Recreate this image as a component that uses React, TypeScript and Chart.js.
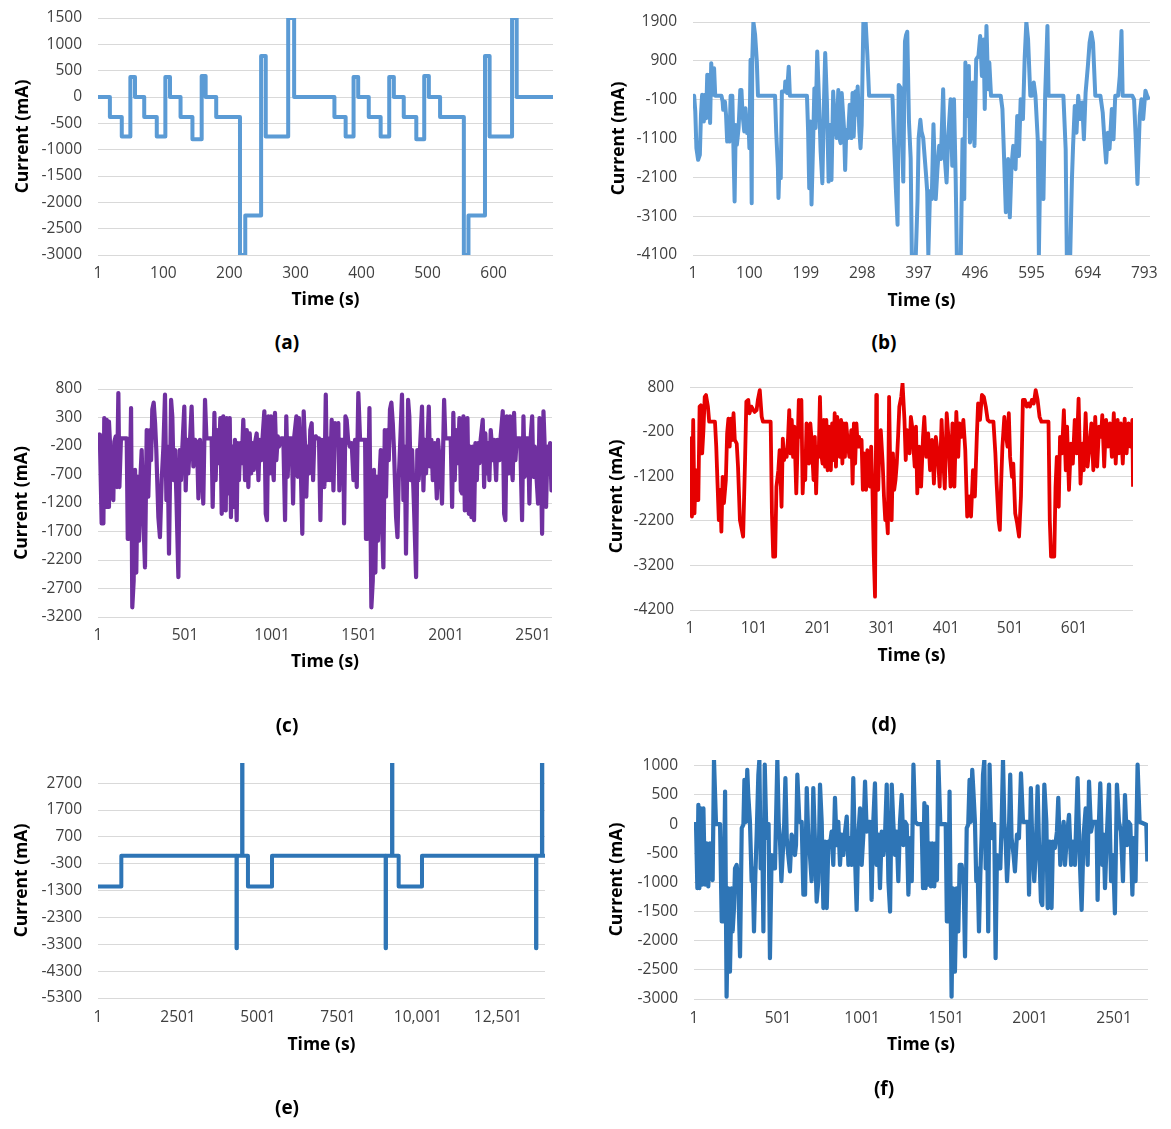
import React, { useEffect, useRef } from "react";
import { Chart, registerables } from "chart.js";
Chart.register(...registerables);

const FONT = '"Open Sans", sans-serif';

// ---------- (a) ----------
const timeA = [1, 19, 37, 50, 57, 71, 90, 103, 110, 126, 144, 158, 164, 180, 216, 224, 248, 255, 289, 298, 359, 376, 388, 395, 411, 429, 442, 449, 464, 483, 495, 502, 519, 555, 562, 587, 594, 628, 635, 690];
const currentA = [0, -380, -750, 380, 0, -380, -750, 380, 0, -380, -800, 400, 0, -380, -3000, -2250, 780, -750, 1500, 0, -380, -750, 380, 0, -380, -750, 380, 0, -380, -800, 400, 0, -380, -3000, -2250, 780, -750, 1500, 0, 0];
const xTicksA = [1, 100, 200, 300, 400, 500, 600];
const yTicksA = [1500, 1000, 500, 0, -500, -1000, -1500, -2000, -2500, -3000];

// ---------- (b) ----------
const pointsB: [number, number][] = [
  [1, -100], [3, 0], [5, -400], [7, -1350], [10, -1650], [13, -1520], [15, -490], [17, 25], [20, -660], [22, 25], [24, -580], [26, 540], [28, -60], [30, 540], [31, -700], [33, 840], [36, 25], [38, 710], [40, 0], [51, 0],
  [53, -150], [54, -360], [57, -150], [59, -490], [61, -1180], [64, -750], [65, -1180], [67, 0], [70, 0], [74, -2720], [76, -750], [78, -1260], [81, -830], [84, 150], [86, 150], [88, -490], [91, -920], [93, -320], [96, -960], [98, -530],
  [100, -1350], [102, 925], [104, -2770], [105, 925], [107, 1900], [110, 1570], [113, 880], [115, 0], [145, 0], [147, -920], [150, -1860], [151, -2630], [153, -1690], [155, -2120], [157, 110], [160, 110], [162, 110], [163, 370], [166, 70], [169, 750],
  [171, 0], [201, 0], [203, -920], [205, -2380], [207, -660], [209, -2800], [212, -1090], [214, 190], [216, -830], [219, 1140], [222, -60], [225, -1440], [228, -2250], [231, -60], [233, 1100], [236, -150], [239, -2210], [241, -750], [244, -2170], [247, 110],
  [249, -490], [253, -1090], [256, 150], [258, -1090], [260, -1220], [262, 70], [266, -830], [268, -1910], [270, -880], [273, -1090], [276, -230], [279, -1090], [281, 70], [283, -1050], [286, 110], [288, -490], [290, 240], [293, -920], [295, -1350], [297, -750],
  [300, 1900], [304, 1900], [307, 1050], [310, 0], [351, 0], [354, -1260], [357, -2380], [360, -3320], [362, 280], [366, 190], [368, -1180], [370, -2210], [373, 1400], [375, 1570], [377, 1650], [380, -660], [383, -1610], [385, -4100], [392, -4100], [395, -2720],
  [397, -1090], [400, -620], [402, -920], [405, -1090], [410, -2040], [412, -2460], [414, -4100], [417, -2450], [420, -2660], [423, -730], [427, -2660], [430, -1890], [433, -1290], [436, -1630], [440, 170], [443, -1630], [446, -2230], [449, -1030], [453, -90], [456, -1800],
  [459, -90], [462, -2140], [464, -4100], [471, -4100], [474, -1120], [477, -2660], [479, 855], [482, -520], [485, 770], [487, -1200], [490, -860], [492, 340], [495, -1290], [498, 940], [502, 1030], [505, 1540], [508, 510], [511, 1450], [513, -340], [516, 1800],
  [519, 170], [521, 855], [524, 0], [541, 0], [544, -340], [547, -1630], [550, -3000], [554, -1630], [557, -3130], [560, -1800], [563, -1290], [567, -1890], [570, -520], [573, -1550], [576, -90], [580, -600], [583, 940], [586, 1900], [589, 1450], [593, 0],
  [596, 0], [599, 340], [602, 0], [606, -1120], [608, -4100], [611, -1200], [614, -2060], [616, -2660], [619, 0], [623, 1800], [625, 0], [651, 0], [655, -1370], [657, -4100], [663, -4100], [666, -2140], [668, -1290], [671, -260], [674, -950], [677, 0],
  [681, -600], [684, -170], [687, -1120], [690, 85], [694, 770], [697, 1370], [700, 1630], [703, 1370], [707, 0], [716, 0], [720, -430], [723, -1120], [726, -1720], [729, -950], [732, -1370], [736, -340], [739, -1120], [742, 0], [747, 0], [750, 510],
  [753, 1670], [755, 0], [772, 0], [775, -90], [778, -1120], [781, -2270], [785, -520], [788, -90], [791, -600], [795, 130], [798, 0], [801, -100],
];
const xTicksB = [1, 100, 199, 298, 397, 496, 595, 694, 793];
const yTicksB = [1900, 900, -100, -1100, -2100, -3100, -4100];

// ---------- (c) ----------
const pointsC: [number, number][] = [
  [1, -100], [7, 0], [12, -90], [22, -1560], [32, -1560], [37, 290], [45, -1270], [51, 260], [60, -1270], [64, 230], [70, -150], [80, -1030], [89, -1150], [95, -120], [103, -30], [110, -920], [118, 730], [124, -920], [133, -65], [166, -65],
  [172, -1830], [179, -1830], [191, 465], [198, -3030], [206, -2560], [214, -620], [221, -2420], [229, -740], [237, -1860], [244, -800], [252, -270], [262, -1500], [271, -2330], [281, 80], [290, -1090], [300, 80], [306, -450], [313, 440], [321, 560], [329, 200],
  [336, -270], [348, -1450], [357, -1800], [367, -800], [377, -210], [386, 700], [394, -1150], [401, -210], [409, -2090], [421, 610], [428, 320], [436, -800], [444, -270], [453, -1270], [463, -2500], [470, -270], [478, -800], [486, -210], [497, 490], [505, -980],
  [513, -90], [520, -680], [528, -210], [539, 490], [549, -560], [559, -90], [570, -150], [578, -1120], [587, -90], [597, -560], [606, -1210], [616, 610], [624, -65], [654, -65], [660, -1270], [670, 380], [677, -800], [685, 80], [696, -500], [704, 290],
  [712, -1390], [721, 320], [727, -800], [735, -1330], [741, 290], [750, -1030], [758, 290], [765, -1450], [773, -210], [781, -1270], [788, -90], [798, -1500], [804, -150], [811, -800], [819, -150], [827, -500], [836, 260], [846, -800], [856, 80], [865, -920],
  [873, 20], [881, -680], [888, -150], [896, -620], [903, -150], [913, 20], [923, -800], [930, -90], [938, -450], [946, -90], [957, 410], [965, -1390], [972, -1500], [980, 320], [988, -680], [995, 320], [1003, -500], [1011, -800], [1018, 380], [1026, -450],
  [1034, -30], [1041, -210], [1053, -65], [1066, -65], [1076, -1500], [1083, 320], [1091, -740], [1099, -65], [1114, -65], [1122, -1210], [1129, -30], [1141, 320], [1149, -740], [1156, 290], [1168, -800], [1175, -1740], [1183, 410], [1191, -210], [1198, -1090], [1206, -210],
  [1214, -680], [1221, 80], [1229, 200], [1237, -800], [1244, -90], [1252, -30], [1260, -65], [1271, -65], [1279, -1500], [1287, -90], [1294, -620], [1302, -920], [1310, 700], [1317, -800], [1325, -65], [1334, -800], [1344, 260], [1354, -980], [1363, 200], [1373, -150],
  [1382, 200], [1388, -980], [1396, -90], [1411, -90], [1415, -1560], [1423, 320], [1430, 260], [1438, -90], [1449, -210], [1459, -150], [1469, -800], [1478, -90], [1488, -920], [1497, 730], [1507, -90], [1536, -90], [1541, -1830], [1549, -1830], [1561, 465], [1572, -3030],
  [1580, -2560], [1587, -620], [1595, -2420], [1603, -740], [1610, -1860], [1618, -800], [1626, -270], [1633, -1500], [1641, -2330], [1649, 80], [1656, -1090], [1664, 80], [1672, -450], [1679, 440], [1687, 560], [1695, 200], [1702, -270], [1714, -1450], [1722, -1800], [1729, -800],
  [1737, -210], [1748, 700], [1756, -1150], [1764, -210], [1771, -2090], [1783, 610], [1790, 320], [1798, -800], [1806, -270], [1817, -1270], [1829, -2500], [1836, -270], [1844, -800], [1852, -210], [1863, 490], [1871, -980], [1879, -90], [1886, -680], [1894, -210], [1902, 490],
  [1909, -560], [1917, -90], [1925, -800], [1936, -150], [1948, -1120], [1955, -90], [1967, -560], [1978, -1210], [1990, 610], [1997, -65], [2028, -65], [2036, -1270], [2043, 380], [2051, -800], [2059, 80], [2070, -500], [2078, 290], [2086, -980], [2093, -1030], [2101, 320],
  [2109, -1330], [2116, -800], [2124, 290], [2132, -1390], [2139, -210], [2147, -1450], [2155, -210], [2162, -1500], [2170, -150], [2178, -800], [2185, -150], [2193, -500], [2200, -90], [2212, 260], [2220, -920], [2227, 20], [2235, -680], [2243, -150], [2250, -800], [2258, 80],
  [2270, -450], [2277, -90], [2289, -800], [2296, -90], [2308, -450], [2315, -30], [2327, 410], [2335, -1390], [2342, -1500], [2350, 320], [2361, -680], [2369, 320], [2377, -500], [2384, -800], [2392, 380], [2400, -450], [2407, -65], [2427, -65], [2438, -1500], [2446, 320],
  [2453, -740], [2461, -65], [2473, -65], [2480, -1210], [2488, -30], [2496, 320], [2503, -740], [2511, -210], [2522, -800], [2530, -1210], [2538, 290], [2545, -210], [2553, -1740], [2561, 410], [2568, -210], [2576, -1270], [2584, -210], [2591, -680], [2599, -150], [2607, -980],
  [2610, -210],
];
const xTicksC = [1, 501, 1001, 1501, 2001, 2501];
const yTicksC = [800, 300, -200, -700, -1200, -1700, -2200, -2700, -3200];

// ---------- (d) ----------
const pointsD: [number, number][] = [
  [1, -300], [3, -380], [4, -2100], [6, 70], [8, -2030], [10, -1060], [12, -1730], [14, -1730], [16, 370], [18, 400], [20, -680], [22, -160], [24, 590], [26, 630], [29, 370], [31, 30], [40, 30], [42, -530], [44, -1360], [46, -2180],
  [48, -1500], [50, -2440], [52, -1210], [54, -1800], [57, -1280], [59, -230], [61, 100], [63, -530], [65, 100], [67, -380], [69, 220], [71, -380], [74, -460], [76, -980], [79, -2180], [81, -2330], [84, -2550], [87, -830], [89, 480], [92, 520],
  [94, 220], [97, 370], [100, 290], [102, 250], [105, 290], [107, 520], [110, 740], [113, 140], [115, 30], [127, 30], [129, -2030], [131, -3000], [134, -3000], [136, -1430], [139, -1060], [141, -610], [144, -1880], [146, -350], [148, -830], [150, -610],
  [152, -760], [154, -380], [156, 290], [158, -680], [160, 70], [162, -760], [164, -80], [167, -1580], [169, -530], [171, 520], [173, -310], [175, 520], [177, -1580], [179, -830], [181, -1280], [183, -10], [185, -310], [187, -910], [189, -10], [191, -380],
  [194, -1280], [196, -310], [198, -1580], [200, -530], [202, -760], [204, 590], [206, -680], [208, -910], [210, 70], [212, -980], [214, 70], [216, -1060], [218, -80], [221, -1060], [223, -10], [225, -830], [227, 220], [229, -980], [231, 140], [233, -530],
  [235, -760], [237, 70], [239, -910], [241, -10], [243, -760], [245, -10], [248, -530], [250, -760], [253, -160], [255, -1360], [257, -10], [259, -910], [261, -10], [263, -530], [265, -310], [267, -530], [269, -380], [271, -1500], [273, -680], [276, -1500],
  [278, -610], [280, -760], [282, -1430], [284, -530], [286, -1500], [288, -2930], [290, -3900], [292, 630], [293, -1280], [295, -1500], [297, -380], [299, -160], [302, -910], [304, -1650], [306, -2180], [308, -2030], [310, -2480], [312, 590], [314, -1280], [316, -2180],
  [318, -680], [320, -1500], [322, -1280], [324, -910], [326, -310], [328, 370], [331, 590], [333, 890], [336, 70], [338, -830], [340, -160], [342, -230], [344, -680], [346, 140], [348, -80], [350, -530], [352, -980], [354, -80], [356, -1580], [359, -530],
  [362, -1430], [365, -310], [367, 140], [370, -760], [373, -230], [376, -1060], [379, -380], [382, -1360], [385, -310], [388, -680], [391, -1430], [394, 70], [396, -680], [399, -1470], [402, 220], [405, -380], [408, -1430], [411, -10], [414, -1430], [417, 250],
  [420, -760], [422, -10], [425, -310], [428, 70], [431, -610], [434, -2100], [437, -1650], [440, -2100], [443, -1060], [446, -1650], [449, -310], [451, 440], [454, 70], [457, 630], [460, 590], [463, 370], [466, 70], [469, 30], [475, 30], [478, -680],
  [480, -1360], [483, -2180], [485, -2400], [487, -1360], [489, -530], [492, 140], [495, -310], [497, -530], [499, 220], [501, -760], [504, -1210], [506, -910], [509, -2030], [512, -2250], [515, -2550], [518, -1650], [521, 520], [524, 520], [527, 370], [530, 440],
  [532, 370], [535, 520], [538, 440], [541, 740], [544, 520], [547, 140], [550, 30], [561, 30], [563, -2180], [565, -3000], [570, -3000], [572, -1430], [574, -760], [577, -1880], [579, -310], [582, -680], [585, 290], [588, -1060], [590, -80], [593, -1500],
  [596, -460], [599, -910], [602, 70], [605, -680], [608, 550], [611, -1360], [614, -460], [616, -1060], [619, 220], [622, -980], [625, -530], [628, -10], [631, -1060], [634, 140], [637, -980], [640, -80], [643, -310], [645, 180], [648, -980], [651, 70],
  [654, -530], [657, -10], [660, -760], [663, 220], [666, -910], [669, 70], [671, -680], [674, -10], [677, -910], [680, 100], [683, -680], [686, -10], [689, -530], [692, 70], [693, -1430],
];
const xTicksD = [1, 101, 201, 301, 401, 501, 601];
const yTicksD = [800, -200, -1200, -2200, -3200, -4200];

// ---------- (e) ----------
const timeE = [1, 730, 4330, 4340, 4505, 4515, 4687, 5439, 8990, 9000, 9190, 9200, 9397, 10126, 13690, 13700, 13875, 13885, 13970];
const currentE = [-1150, 0, -3450, 0, 3450, 0, -1150, 0, -3450, 0, 3450, 0, -1150, 0, -3450, 0, 3450, 0, 0];
const xTicksE = [1, 2501, 5001, 7501, 10001, 12501];
const xLabelsE = ["1", "2501", "5001", "7501", "10,001", "12,501"];
const yTicksE = [2700, 1700, 700, -300, -1300, -2300, -3300, -4300, -5300];

// ---------- (f) ----------
const pointsF: [number, number][] = [
  [1, 0], [13, 0], [21, -1100], [27, 330], [33, -1100], [41, 270], [49, -1040], [57, 270], [61, -330], [68, -1040], [76, -330], [86, -1070], [96, -330], [104, -360], [112, -960], [120, 1100], [132, 0], [156, 0], [166, -1670], [176, -1670],
  [186, 560], [195, -2960], [205, -1100], [215, -2530], [225, -1100], [231, -1840], [239, -1440], [245, -760], [255, -700], [265, -1040], [275, -2270], [285, -70], [295, -10], [301, 760], [311, 40], [318, 930], [324, 500], [334, 40], [344, -980], [350, -760],
  [358, -1840], [366, -870], [374, -180], [384, 850], [390, 1100], [398, -760], [406, 40], [414, -1840], [422, 1020], [430, 40], [437, -240], [445, 0], [453, -2300], [463, -530], [473, -760], [483, -760], [489, 40], [497, 1100], [505, 40], [513, -300],
  [521, -980], [529, -530], [537, -70], [545, 790], [553, -240], [562, -530], [572, -810], [582, -180], [592, -240], [602, -530], [608, -360], [616, 850], [628, 40], [642, 40], [652, -1210], [662, -1210], [672, 620], [682, -300], [691, -530], [701, -980],
  [711, 620], [721, -300], [731, -1330], [741, -980], [751, 680], [761, 40], [771, -1440], [781, -300], [791, -1440], [801, -300], [810, -360], [820, -130], [830, -700], [840, 450], [850, -360], [860, 40], [870, -700], [880, -180], [890, -530], [900, -130],
  [910, 130], [920, -700], [930, -240], [939, -700], [949, 790], [959, -530], [969, -1470], [979, -180], [989, 270], [999, -700], [1009, -180], [1019, 730], [1029, -130], [1039, 40], [1049, 40], [1058, -1300], [1068, 40], [1078, 700], [1088, -700], [1098, -180],
  [1108, -1100], [1118, -130], [1128, -530], [1138, -180], [1148, 680], [1158, -980], [1168, -1500], [1178, 680], [1187, 40], [1197, -530], [1207, -130], [1217, -980], [1227, 40], [1237, 500], [1247, -360], [1257, 40], [1267, -10], [1277, -1210], [1287, -240], [1297, -980],
  [1307, 1020], [1317, 40], [1332, 0], [1356, 0], [1364, -1100], [1372, 360], [1379, -1100], [1387, 300], [1395, -1040], [1403, -330], [1411, -1070], [1419, -330], [1431, -1070], [1439, -330], [1447, -960], [1455, 1100], [1467, 0], [1499, 0], [1506, -1670], [1514, -1670],
  [1522, 560], [1534, -2960], [1542, -1100], [1554, -2530], [1564, -1100], [1574, -1840], [1582, -700], [1594, -700], [1606, -1040], [1614, -2270], [1624, -70], [1633, -10], [1641, 760], [1649, 40], [1657, 930], [1665, 500], [1673, 40], [1681, -980], [1689, -760], [1697, -1840],
  [1705, -870], [1713, -180], [1721, 850], [1729, 1100], [1737, -760], [1745, 40], [1752, -1840], [1760, 1020], [1768, 40], [1776, -240], [1788, 0], [1796, -2300], [1804, -530], [1812, -760], [1824, -760], [1832, 40], [1840, 1100], [1848, 40], [1856, -300], [1864, -980],
  [1872, -530], [1883, 850], [1891, -240], [1903, -530], [1911, -810], [1923, -180], [1935, -240], [1947, 870], [1959, 40], [1987, 40], [1995, -1210], [2006, 620], [2014, -300], [2026, -980], [2034, -530], [2046, 650], [2054, -300], [2066, -1330], [2074, -1390], [2086, 680],
  [2098, 40], [2106, -1440], [2118, -300], [2129, -1440], [2137, -300], [2149, -410], [2161, -130], [2169, 450], [2181, -700], [2189, -360], [2201, 40], [2209, -700], [2221, -180], [2233, 160], [2245, -700], [2256, -300], [2268, -700], [2284, 790], [2296, -530], [2308, -1470],
  [2320, -180], [2332, 270], [2344, -700], [2352, 730], [2364, -130], [2375, 40], [2397, 40], [2403, -1300], [2411, 40], [2419, 700], [2431, -700], [2439, -180], [2447, -1100], [2459, -130], [2471, 680], [2483, -980], [2495, -530], [2506, -1530], [2518, 680], [2530, 40],
  [2542, -130], [2554, -980], [2566, 500], [2578, -360], [2586, 40], [2598, -10], [2610, -1210], [2618, -240], [2629, -980], [2641, 1020], [2653, 40], [2693, -10], [2699, -640],
];
const xTicksF = [1, 501, 1001, 1501, 2001, 2501];
const yTicksF = [1000, 500, 0, -500, -1000, -1500, -2000, -2500, -3000];

type Spec = {
  id: string;
  points: { x: number; y: number }[];
  color: string;
  lineWidth: number;
  stepped: false | "before" | "after";
  xMin: number; xMax: number; xTicks: number[]; xLabels?: string[];
  yMin: number; yMax: number; yTicks: number[];
  col: number; l: number; t: number; r: number; b: number;
  yTitleX: number; xTickY: number; xTitleY: number;
};

const pairs = (arr: [number, number][]) => arr.map(([x, y]) => ({ x, y }));

const specs: Spec[] = [
  { id: "a", points: timeA.map((x, i) => ({ x, y: currentA[i] })), color: "#5B9BD5", lineWidth: 4, stepped: "before",
    xMin: 1, xMax: 690, xTicks: xTicksA, yMin: -3000, yMax: 1500, yTicks: yTicksA,
    col: 0, l: 98, t: 18, r: 553, b: 255, yTitleX: 23, xTickY: 273, xTitleY: 300 },
  { id: "b", points: pairs(pointsB), color: "#5B9BD5", lineWidth: 4, stepped: false,
    xMin: 1, xMax: 803, xTicks: xTicksB, yMin: -4100, yMax: 1900, yTicks: yTicksB,
    col: 592, l: 693, t: 22, r: 1150, b: 255, yTitleX: 619, xTickY: 273, xTitleY: 301 },
  { id: "c", points: pairs(pointsC), color: "#7030A0", lineWidth: 4.2, stepped: false,
    xMin: 1, xMax: 2610, xTicks: xTicksC, yMin: -3200, yMax: 800, yTicks: yTicksC,
    col: 0, l: 98, t: 389, r: 552, b: 617, yTitleX: 22, xTickY: 635, xTitleY: 662 },
  { id: "d", points: pairs(pointsD), color: "#E60000", lineWidth: 3.8, stepped: false,
    xMin: 1, xMax: 693, xTicks: xTicksD, yMin: -4200, yMax: 900, yTicks: yTicksD,
    col: 592, l: 690, t: 383, r: 1133, b: 610, yTitleX: 617, xTickY: 628, xTitleY: 656 },
  { id: "e", points: timeE.map((x, i) => ({ x, y: currentE[i] })), color: "#2E75B6", lineWidth: 4, stepped: "before",
    xMin: 1, xMax: 13970, xTicks: xTicksE, xLabels: xLabelsE, yMin: -5300, yMax: 3450, yTicks: yTicksE,
    col: 0, l: 98, t: 763, r: 545, b: 998, yTitleX: 22, xTickY: 1017, xTitleY: 1045 },
  { id: "f", points: pairs(pointsF), color: "#2E75B6", lineWidth: 4.2, stepped: false,
    xMin: 1, xMax: 2703, xTicks: xTicksF, yMin: -3000, yMax: 1100, yTicks: yTicksF,
    col: 592, l: 694, t: 760, r: 1148, b: 999, yTitleX: 617, xTickY: 1018, xTitleY: 1045 },
];

const panelLabels = [
  { text: "(a)", x: 287, y: 342 },
  { text: "(b)", x: 884, y: 342 },
  { text: "(c)", x: 287, y: 725 },
  { text: "(d)", x: 884, y: 724 },
  { text: "(e)", x: 287, y: 1107 },
  { text: "(f)", x: 884, y: 1088 },
];

const TICK_SIZE = 15.5;
const TITLE_SIZE = 17.5;
const TOP_PAD = 27;

function Panel({ s }: { s: Spec }) {
  const ref = useRef<HTMLCanvasElement | null>(null);
  const CL = s.col;
  const CT = s.t - TOP_PAD;
  const CR = Math.min(s.r + 22, 1171);
  const CB = s.xTitleY + 16;
  const W = CR - CL;
  const H = CB - CT;

  useEffect(() => {
    if (!ref.current) return;
    const titleLH = TITLE_SIZE * 1.2;
    const tickLH = TICK_SIZE * 1.2;
    const chart = new Chart(ref.current, {
      type: "line",
      data: {
        datasets: [
          {
            data: s.points,
            borderColor: s.color,
            backgroundColor: s.color,
            borderWidth: s.lineWidth,
            pointRadius: 0,
            pointHoverRadius: 0,
            tension: 0,
            stepped: s.stepped as any,
            borderJoinStyle: "round",
            borderCapStyle: "butt",
            fill: false,
          },
        ],
      },
      options: {
        animation: false,
        responsive: false,
        maintainAspectRatio: false,
        events: [],
        layout: { padding: { top: TOP_PAD, right: CR - s.r, left: 0, bottom: 0 } },
        plugins: { legend: { display: false }, tooltip: { enabled: false }, title: { display: false } },
        scales: {
          x: {
            type: "linear",
            min: s.xMin,
            max: s.xMax,
            grid: { display: false, drawTicks: false },
            border: { display: false },
            afterBuildTicks: (sc: any) => {
              sc.ticks = s.xTicks.map((v) => ({ value: v }));
            },
            afterFit: (sc: any) => {
              sc.height = CB - s.b;
            },
            ticks: {
              autoSkip: false,
              maxRotation: 0,
              minRotation: 0,
              padding: s.xTickY - s.b - tickLH / 2 + 0.5,
              color: "#404040",
              font: { family: FONT, size: TICK_SIZE },
              callback: (_v: any, i: number) => (s.xLabels ? s.xLabels[i] : String(s.xTicks[i])),
            },
            title: {
              display: true,
              text: "Time (s)",
              color: "#000000",
              font: { family: FONT, size: TITLE_SIZE, weight: "bold" },
              padding: { top: 0, bottom: CB - s.xTitleY - titleLH / 2 },
            },
          },
          y: {
            type: "linear",
            min: s.yMin,
            max: s.yMax,
            grid: { color: "#D9D9D9", lineWidth: 1, drawTicks: false },
            border: { display: false },
            afterBuildTicks: (sc: any) => {
              sc.ticks = s.yTicks.map((v) => ({ value: v }));
            },
            afterFit: (sc: any) => {
              sc.width = s.l - CL;
            },
            ticks: {
              padding: 16,
              color: "#404040",
              font: { family: FONT, size: TICK_SIZE },
              callback: (v: any) => String(v),
            },
            title: {
              display: true,
              text: "Current (mA)",
              color: "#000000",
              font: { family: FONT, size: TITLE_SIZE, weight: "bold" },
              padding: { top: s.yTitleX - CL - titleLH / 2, bottom: 0 },
            },
          },
        },
      },
    });
    return () => chart.destroy();
  }, []);

  return (
    <canvas
      ref={ref}
      width={W}
      height={H}
      style={{ position: "absolute", left: CL, top: CT, width: W, height: H }}
    />
  );
}

export default function App() {
  return (
    <div style={{ position: "absolute", left: 0, top: 0, width: 1171, height: 1129, background: "#ffffff", overflow: "hidden" }}>
      {specs.map((s) => (
        <Panel key={s.id} s={s} />
      ))}
      {panelLabels.map((p) => (
        <div
          key={p.text}
          style={{
            position: "absolute",
            left: p.x,
            top: p.y,
            transform: "translate(-50%, -50%)",
            fontFamily: FONT,
            fontWeight: 700,
            fontSize: 19,
            color: "#000",
            whiteSpace: "nowrap",
          }}
        >
          {p.text}
        </div>
      ))}
    </div>
  );
}
